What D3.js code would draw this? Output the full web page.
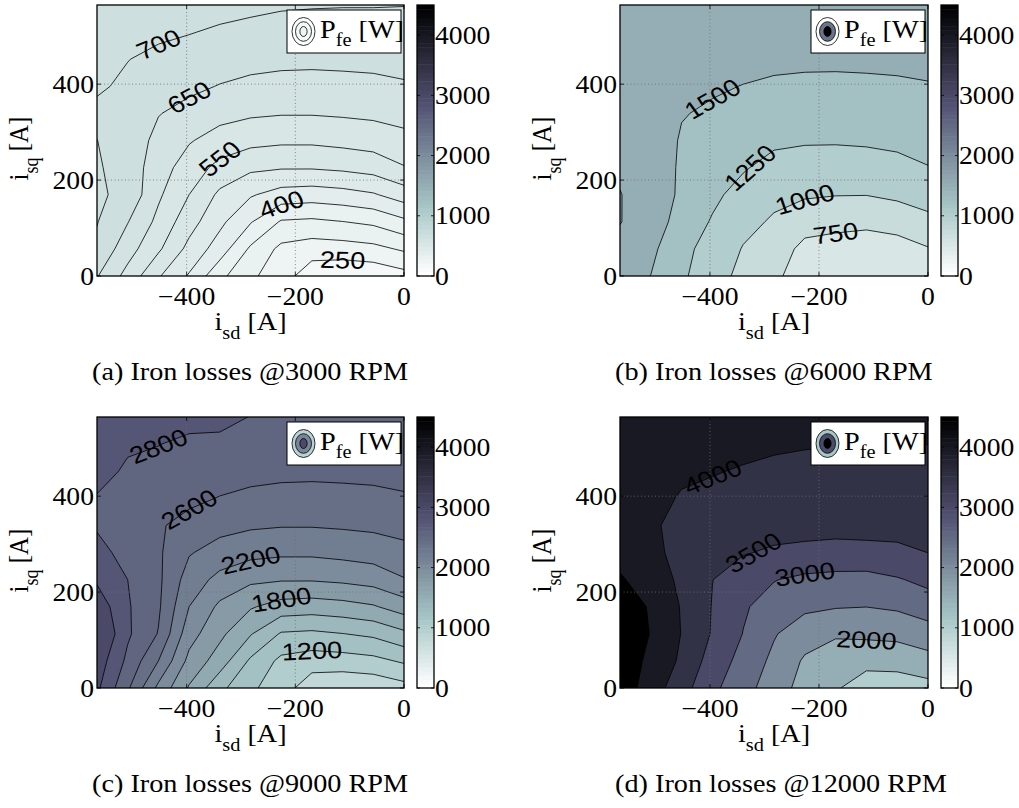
<!DOCTYPE html>
<html>
<head>
<meta charset="utf-8">
<script src="https://cdn.jsdelivr.net/npm/d3@7/dist/d3.min.js"></script>
<style>
  body { margin: 0; background: #fff; }
  text { font-family: "Liberation Serif", "Times New Roman", serif; fill: #000; }
  text.clab { font-family: "Liberation Sans", Arial, sans-serif; }
</style>
</head>
<body>
<svg id="fig" width="1019" height="808"></svg>
<script>
// grid of the measurements: columns i_sd, rows i_sq from the top (565 A) down to 0
var isdAxis = [-565, -508.5, -452, -395.5, -339, -282.5, -226, -169.5, -113, -56.5, 0];
var isqAxis = [565, 508.5, 452, 395.5, 339, 282.5, 226, 169.5, 113, 56.5, 0];

var xTicks = [-400, -200, 0];
var yTicks = [0, 200, 400];
var cbTicks = [0, 1000, 2000, 3000, 4000];

// iron losses [W] @3000 rpm
var lossA = [
  [745, 727, 722, 720, 715, 710, 705, 703, 702, 702, 701],
  [735, 714, 708, 702, 694, 688, 683, 682, 682, 682, 683],
  [720, 701, 690, 681, 671, 665, 661, 660, 661, 662, 665],
  [706, 692, 671, 660, 648, 639, 635, 634, 636, 639, 645],
  [690, 684, 652, 635, 616, 607, 603, 603, 606, 610, 617],
  [700.5, 678, 637, 604, 580, 565, 559, 559, 565, 572, 586],
  [705, 680, 622, 577, 535, 510, 504, 504, 510, 520, 547],
  [708, 686, 608, 550, 490, 455, 430, 425, 432, 445, 475],
  [702, 652, 587, 520, 462, 404, 345, 340, 349, 360, 389],
  [690, 621, 558, 486, 426, 342, 288, 275, 278, 286, 307],
  [653, 583, 505, 445, 363, 308, 276, 218, 208, 213, 232]
];
// @6000 rpm
var lossB = [
  [1735, 1675, 1660, 1660, 1655, 1650, 1645, 1645, 1650, 1650, 1650],
  [1730, 1665, 1620, 1620, 1610, 1600, 1595, 1595, 1600, 1600, 1605],
  [1725, 1655, 1580, 1575, 1560, 1545, 1540, 1540, 1545, 1550, 1563],
  [1720, 1645, 1540, 1525, 1495, 1470, 1457, 1453, 1458, 1468, 1485],
  [1715, 1640, 1511, 1470, 1420, 1379, 1365, 1363, 1370, 1383, 1406],
  [1715, 1640, 1479, 1411, 1344, 1288, 1272, 1271, 1280, 1297, 1325],
  [1723, 1650, 1465, 1352, 1269, 1182, 1149, 1138, 1153, 1187, 1243],
  [1756, 1665, 1454, 1293, 1177, 1065, 1027, 1008, 1005, 1044, 1103],
  [1756, 1660, 1380, 1232, 1078, 967, 858, 821, 810, 855, 938],
  [1700, 1560, 1300, 1180, 985, 890, 678, 649, 610, 640, 735],
  [1600, 1497, 1280, 1140, 910, 815, 590, 545, 500, 510, 545]
];
// @9000 rpm
var lossC = [
  [2950, 2870, 2860, 2840, 2830, 2797, 2790, 2780, 2776, 2776, 2770],
  [2900, 2820, 2803, 2775, 2776, 2752, 2732, 2728, 2728, 2728, 2732],
  [2850, 2779, 2760, 2724, 2684, 2660, 2644, 2640, 2644, 2648, 2660],
  [2790, 2745, 2690, 2640, 2592, 2556, 2540, 2536, 2544, 2556, 2580],
  [2790, 2740, 2620, 2540, 2464, 2428, 2412, 2412, 2424, 2440, 2468],
  [2830, 2768, 2630, 2416, 2320, 2260, 2236, 2236, 2260, 2288, 2344],
  [2969, 2800, 2640, 2308, 2140, 2040, 2016, 2016, 2040, 2080, 2188],
  [3131, 2820, 2630, 2200, 1960, 1820, 1720, 1700, 1728, 1780, 1900],
  [3245, 2830, 2590, 2080, 1848, 1616, 1380, 1360, 1396, 1440, 1556],
  [3116, 2754, 2400, 1944, 1704, 1368, 1152, 1100, 1112, 1144, 1228],
  [3041, 2631, 2150, 1780, 1452, 1232, 1104, 872, 832, 852, 928]
];
// @12000 rpm
var lossD = [
  [4430, 4330, 4270, 4250, 4220, 4150, 4120, 4100, 4100, 4100, 4100],
  [4400, 4270, 4180, 4150, 4127, 4062, 4031, 4013, 4005, 4005, 4003],
  [4370, 4200, 4080, 4030, 3960, 3911, 3884, 3872, 3874, 3870, 3877],
  [4330, 4150, 3960, 3880, 3816, 3761, 3736, 3725, 3727, 3729, 3752],
  [4300, 4100, 3800, 3750, 3669, 3611, 3588, 3580, 3581, 3589, 3628],
  [4320, 4150, 3820, 3620, 3520, 3459, 3439, 3420, 3434, 3445, 3502],
  [4560, 4250, 3910, 3505, 3344, 3022, 2883, 2820, 2805, 2956, 3136],
  [4850, 4440, 3967, 3480, 3060, 2781, 2600, 2530, 2505, 2569, 2732],
  [4900, 4480, 3985, 3460, 2987, 2541, 2215, 2060, 2092, 2136, 2294],
  [4850, 4370, 3921, 3283, 2834, 2385, 1936, 1737, 1670, 1676, 1819],
  [4800, 4260, 3700, 3112, 2682, 2248, 1813, 1560, 1206, 1240, 1330]
];

var levelsA = [250, 300, 350, 400, 450, 500, 550, 600, 650, 700];
var levelsB = [750, 1000, 1250, 1500, 1750];
var levelsC = [1000, 1200, 1400, 1600, 1800, 2000, 2200, 2400, 2600, 2800, 3000];
var levelsD = [1500, 2000, 2500, 3000, 3500, 4000, 4500];

// labelled contours: [level, i_sd, i_sq]
var labelsA = [[700, -452, 479], [650, -397, 368], [550, -339, 237], [400, -225, 147], [250, -115, 34]];
var labelsB = [[1500, -391, 364], [1250, -329, 222], [1000, -225, 163], [750, -167, 93]];
var labelsC = [[2800, -452, 486], [2600, -397, 385], [2200, -283, 264], [1800, -225, 174], [1200, -170, 56]];
var labelsD = [[4000, -391, 441], [3500, -332, 295], [3000, -228, 233], [2000, -115, 106]];

var captions = ["(a) Iron losses @3000 RPM", "(b) Iron losses @6000 RPM",
                "(c) Iron losses @9000 RPM", "(d) Iron losses @12000 RPM"];

var svg = d3.select("#fig");
var SX = 1.13;   // the figure is slightly stretched horizontally

// MATLAB bone(64), flipped
var cmap = (function () {
  var m = 64, n = 24, out = [];
  for (var i = 0; i < m; i++) {
    var g = i / (m - 1);
    var hr = i < n ? (i + 1) / n : 1;
    var hg = i < n ? 0 : (i < 2 * n ? (i - n + 1) / n : 1);
    var hb = i < 2 * n ? 0 : (i - 2 * n + 1) / (m - 2 * n);
    out.push(d3.rgb(255 * (7 * g + hb) / 8, 255 * (7 * g + hg) / 8, 255 * (7 * g + hr) / 8).formatHex());
  }
  return out.reverse();
})();
var cmax = 4500;
function colorOf(v) {
  var k = Math.floor(v / cmax * 64);
  return cmap[Math.max(0, Math.min(63, k))];
}

function stxt(g, x, y, size, anchor) {
  return g.append("text")
    .attr("transform", "translate(" + x + "," + y + ") scale(" + SX + ",1)")
    .attr("font-size", size)
    .attr("text-anchor", anchor);
}

var panels = [
  {grid: lossA, levels: levelsA, base: 200, labels: labelsA, x0: 97, x1: 404, y0: 5, y1: 276,
   ring: ["#ffffff", "#f4f8f8", "#eef4f4"]},
  {grid: lossB, levels: levelsB, base: 500, labels: labelsB, x0: 620, x1: 928, y0: 5, y1: 276,
   ring: ["#ffffff", "#6b7388", "#000000"]},
  {grid: lossC, levels: levelsC, base: 800, labels: labelsC, x0: 97, x1: 404, y0: 417, y1: 688,
   ring: ["#b9d2d2", "#7a8499", "#4b4b68"]},
  {grid: lossD, levels: levelsD, base: 1000, labels: labelsD, x0: 620, x1: 928, y0: 417, y1: 688,
   ring: ["#a6c6c6", "#4c4c6a", "#000000"]}
];

panels.forEach(function (p, pi) {
  var x = d3.scaleLinear().domain([isdAxis[0], isdAxis[isdAxis.length - 1]]).range([p.x0, p.x1]);
  var y = d3.scaleLinear().domain([0, isqAxis[0]]).range([p.y1, p.y0]);
  var nx = isdAxis.length, ny = isqAxis.length;
  var dx = isdAxis[1] - isdAxis[0], dy = isqAxis[0] - isqAxis[1];

  function toPx(c) {
    return [x(isdAxis[0] + (c[0] - 0.5) * dx), y(isqAxis[0] - (c[1] - 0.5) * dy)];
  }
  var proj = d3.geoTransform({point: function (a, b) {
    var q = toPx([a, b]); this.stream.point(q[0], q[1]);
  }});
  var path = d3.geoPath(proj);

  var values = [];
  p.grid.forEach(function (row) { row.forEach(function (v) { values.push(v); }); });
  var conts = d3.contours().size([nx, ny]).thresholds(p.levels)(values);

  var g = svg.append("g");
  var clipId = "clip" + pi;
  g.append("clipPath").attr("id", clipId).append("rect")
    .attr("x", p.x0).attr("y", p.y0).attr("width", p.x1 - p.x0).attr("height", p.y1 - p.y0);

  var plot = g.append("g").attr("clip-path", "url(#" + clipId + ")");
  plot.append("rect").attr("x", p.x0).attr("y", p.y0)
    .attr("width", p.x1 - p.x0).attr("height", p.y1 - p.y0)
    .attr("fill", colorOf(p.base));
  plot.selectAll("path.fill").data(conts).enter().append("path")
    .attr("class", "fill")
    .attr("d", path)
    .attr("fill", function (d) { return colorOf(d.value); })
    .attr("stroke", "none");
  plot.selectAll("path.line").data(conts).enter().append("path")
    .attr("class", "line")
    .attr("d", path)
    .attr("fill", "none")
    .attr("stroke", "#000")
    .attr("stroke-width", 0.8);

  // dotted grid
  xTicks.slice(0, 2).forEach(function (t) {
    plot.append("line").attr("x1", x(t)).attr("x2", x(t)).attr("y1", p.y0).attr("y2", p.y1)
      .attr("stroke", "#6e6e6e").attr("stroke-width", 0.8).attr("stroke-dasharray", "1,2.5");
  });
  yTicks.slice(1).forEach(function (t) {
    plot.append("line").attr("x1", p.x0).attr("x2", p.x1).attr("y1", y(t)).attr("y2", y(t))
      .attr("stroke", "#6e6e6e").attr("stroke-width", 0.8).attr("stroke-dasharray", "1,2.5");
  });

  // contour labels
  p.labels.forEach(function (lab) {
    var c = conts.find(function (d) { return d.value === lab[0]; });
    if (!c) return;
    var target = [x(lab[1]), y(lab[2])];
    var best = null, bd = Infinity;
    c.coordinates.forEach(function (poly) {
      poly.forEach(function (ring) {
        var pts = ring.map(toPx);
        pts.forEach(function (q, i) {
          var d = Math.hypot(q[0] - target[0], q[1] - target[1]);
          if (d < bd) { bd = d; best = {pts: pts, i: i}; }
        });
      });
    });
    if (!best) return;
    var pts = best.pts, n = pts.length, i0 = best.i;
    function walk(step) {
      var j = i0, acc = 0, prev = pts[i0];
      for (var k = 0; k < n - 1 && acc < 16; k++) {
        j = (j + step + n) % n;
        acc += Math.hypot(pts[j][0] - prev[0], pts[j][1] - prev[1]);
        prev = pts[j];
      }
      return prev;
    }
    var a = walk(-1), b = walk(1);
    var ang = Math.atan2(b[1] - a[1], b[0] - a[0]);
    if (ang > Math.PI / 2) ang -= Math.PI;
    if (ang < -Math.PI / 2) ang += Math.PI;
    // compensate the horizontal stretch so the baseline follows the line
    var angS = Math.atan2(Math.sin(ang) * SX, Math.cos(ang)) * 180 / Math.PI;
    var mid = pts[i0];
    g.append("text").attr("class", "clab")
      .attr("transform", "translate(" + mid[0] + "," + mid[1] + ") scale(" + SX + ",1) rotate(" + angS + ")")
      .attr("font-size", 24)
      .attr("text-anchor", "middle")
      .attr("dy", "0.36em")
      .text(lab[0]);
  });

  // axes frame and ticks
  g.append("rect").attr("x", p.x0).attr("y", p.y0)
    .attr("width", p.x1 - p.x0).attr("height", p.y1 - p.y0)
    .attr("fill", "none").attr("stroke", "#000").attr("stroke-width", 1.3);
  xTicks.forEach(function (t) {
    g.append("line").attr("x1", x(t)).attr("x2", x(t)).attr("y1", p.y1).attr("y2", p.y1 - 4)
      .attr("stroke", "#000").attr("stroke-width", 0.8);
    g.append("line").attr("x1", x(t)).attr("x2", x(t)).attr("y1", p.y0).attr("y2", p.y0 + 4)
      .attr("stroke", "#000").attr("stroke-width", 0.8);
    stxt(g, x(t), p.y1 + 29, 24.5, "middle").text(t < 0 ? "\u2212" + (-t) : String(t));
  });
  yTicks.forEach(function (t) {
    g.append("line").attr("x1", p.x0).attr("x2", p.x0 + 4).attr("y1", y(t)).attr("y2", y(t))
      .attr("stroke", "#000").attr("stroke-width", 0.8);
    g.append("line").attr("x1", p.x1).attr("x2", p.x1 - 4).attr("y1", y(t)).attr("y2", y(t))
      .attr("stroke", "#000").attr("stroke-width", 0.8);
    stxt(g, p.x0 - 3, y(t) + 8.5, 24.5, "end").text(String(t));
  });

  // axis titles
  var xl = stxt(g, (p.x0 + p.x1) / 2, p.y1 + 54, 25, "middle");
  xl.append("tspan").text("i");
  xl.append("tspan").attr("font-size", 18).attr("dy", 9).text("sd");
  xl.append("tspan").attr("dy", -9).text(" [A]");

  var yl = g.append("text")
    .attr("transform", "translate(" + (p.x0 - 69) + "," + ((p.y0 + p.y1) / 2 + 8) + ") scale(" + SX + ",1) rotate(-90)")
    .attr("font-size", 25).attr("text-anchor", "middle");
  yl.append("tspan").text("i");
  yl.append("tspan").attr("font-size", 18).attr("dy", 9).text("sq");
  yl.append("tspan").attr("dy", -9).text(" [A]");

  // legend
  var lx = p.x1 - 117, ly = p.y0 + 5;
  g.append("rect").attr("x", lx).attr("y", ly).attr("width", 114).attr("height", 43)
    .attr("fill", "#fff").attr("stroke", "#000").attr("stroke-width", 1);
  var cx = p.x1 - 100.5, cy = p.y0 + 26.5;
  [[11.5, 14], [8, 9.8], [3.6, 5]].forEach(function (r, k) {
    g.append("ellipse").attr("cx", cx).attr("cy", cy).attr("rx", r[0]).attr("ry", r[1])
      .attr("fill", p.ring[k]).attr("stroke", "#000").attr("stroke-width", 0.8);
  });
  var lt = stxt(g, p.x1 - 84, p.y0 + 33, 25, "start");
  lt.append("tspan").text("P");
  lt.append("tspan").attr("font-size", 18).attr("dy", 8).text("fe");
  lt.append("tspan").attr("dy", -8).text(" [W]");

  // colorbar
  var cbx = p.x1 + 13, cbw = 17;
  var cs = d3.scaleLinear().domain([0, cmax]).range([p.y1, p.y0]);
  var steps = d3.range(64);
  g.selectAll("rect.cb").data(steps).enter().append("rect")
    .attr("class", "cb")
    .attr("x", cbx).attr("width", cbw)
    .attr("y", function (k) { return cs((k + 1) * cmax / 64); })
    .attr("height", function (k) { return cs(k * cmax / 64) - cs((k + 1) * cmax / 64) + 0.5; })
    .attr("fill", function (k) { return cmap[k]; });
  g.append("rect").attr("x", cbx).attr("y", p.y0).attr("width", cbw).attr("height", p.y1 - p.y0)
    .attr("fill", "none").attr("stroke", "#000").attr("stroke-width", 1.3);
  cbTicks.forEach(function (t) {
    g.append("line").attr("x1", cbx).attr("x2", cbx + 3).attr("y1", cs(t)).attr("y2", cs(t))
      .attr("stroke", "#000").attr("stroke-width", 0.8);
    g.append("line").attr("x1", cbx + cbw).attr("x2", cbx + cbw - 3).attr("y1", cs(t)).attr("y2", cs(t))
      .attr("stroke", "#000").attr("stroke-width", 0.8);
    stxt(g, cbx + cbw + 1, cs(t) + 8.5, 24.5, "start").text(String(t));
  });

  // caption
  stxt(g, p.x0 - 5, p.y1 + 104, 25, "start").text(captions[pi]);
});
</script>
</body>
</html>
